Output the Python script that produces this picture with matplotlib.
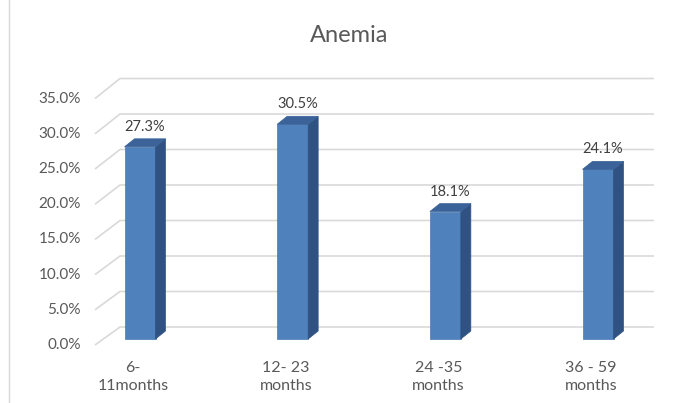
import matplotlib
matplotlib.use("Agg")
import matplotlib.pyplot as plt
from matplotlib.patches import Polygon

categories = ["6-\n11months", "12- 23\nmonths", "24 -35\nmonths", "36 - 59\nmonths"]
values = [27.3, 30.5, 18.1, 24.1]
tick_values = [0, 5, 10, 15, 20, 25, 30, 35]
tick_labels = ["0.0%", "5.0%", "10.0%", "15.0%", "20.0%", "25.0%", "30.0%", "35.0%"]
title = "Anemia"

W, H = 684, 403
fig = plt.figure(figsize=(W / 100, H / 100), dpi=100)
plt.rcParams['font.family'] = ['Lato', 'DejaVu Sans']

ax = fig.add_axes([0, 0, 1, 1])
# pixel mapping: x px = 140 + 152.67*i ; y px(from top) = 339 - 7.04*v
sx, x0 = 152.67, 140.0
sy, y0 = 7.04, 339.0
ax.set_xlim((0 - x0) / sx, (W - x0) / sx)
ax.set_ylim((y0 - H) / sy, y0 / sy)
ax.axis('off')

def px2x(p):
    return (p - x0) / sx

def px2v(p):
    return (y0 - p) / sy

grid_c = "#d9d9d9"
# gridlines: front-left diagonal + back horizontal
for v, lab in zip(tick_values, tick_labels):
    yf = px2v(345 - sy * v)
    yb = px2v(327 - 7.1 * v)
    ax.plot([px2x(95), px2x(120), px2x(654)], [yf, yb, yb], color=grid_c, lw=1.2,
            solid_capstyle='butt', zorder=1)
    ax.text(px2x(81), yf, lab, ha='right', va='center',
            fontsize=11, color="#595959")

# left border line
ax.plot([px2x(8.5), px2x(8.5)], [px2v(0), px2v(403)], color="#d9d9d9", lw=1.0)

front_c = "#4f81bd"
side_c = "#2f5283"
top_c = "#3b6399"
bw = 31 / sx
ddx = 10 / sx
ddy = 8 / sy
for i, v in enumerate(values):
    xl = i - bw / 2
    xr = i + bw / 2
    ax.bar(i, v, width=bw, color=front_c, edgecolor="#4a78b0", lw=0.5, zorder=3)
    side = Polygon([[xr, 0], [xr + ddx, ddy], [xr + ddx, v + ddy], [xr, v]],
                   closed=True, facecolor=side_c, edgecolor=side_c, lw=0.5, zorder=3)
    top = Polygon([[xl, v], [xr, v], [xr + ddx, v + ddy], [xl + ddx, v + ddy]],
                  closed=True, facecolor=top_c, edgecolor=top_c, lw=0.5, zorder=3)
    ax.add_patch(side)
    ax.add_patch(top)
    ax.text(i + ddx / 2, v + ddy + 0.7, f"{v:.1f}%", ha='center', va='bottom',
            fontsize=10.5, color="#404040", zorder=4)
    ax.text(i - 0.045, px2v(361), categories[i], ha='center', va='top',
            fontsize=11.5, color="#595959", linespacing=1.35)

ax.text(px2x(349), px2v(35), title, ha='center', va='center', fontsize=17,
        color="#595959")

fig.savefig("out.png", dpi=100)
